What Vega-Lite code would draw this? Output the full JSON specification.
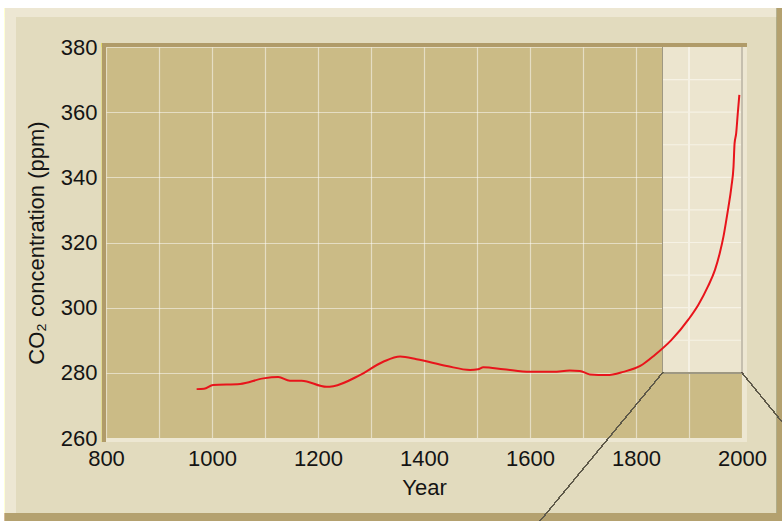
{
  "$schema": "https://vega.github.io/schema/vega-lite/v6.json",
  "width": 636,
  "height": 391,
  "autosize": {"type": "none"},
  "padding": {"left": 106, "top": 47, "right": 40, "bottom": 83},
  "background": "#e2dbbe",
  "config": {
    "view": {"fill": "#cbbb86", "stroke": null},
    "font": "Liberation Sans",
    "axis": {
      "labelFont": "Liberation Sans",
      "titleFont": "Liberation Sans",
      "labelFontSize": 22,
      "titleFontSize": 22,
      "titleFontWeight": "normal",
      "labelColor": "#141414",
      "titleColor": "#141414",
      "ticks": false,
      "tickSize": 0,
      "domain": false,
      "gridColor": "#ffffff",
      "gridOpacity": 0.5,
      "gridWidth": 1.2,
      "labelOverlap": false,
      "labelFlush": false
    }
  },
  "datasets": {
    "co2": [
      {"year": 971, "ppm": 275.0},
      {"year": 985, "ppm": 275.1},
      {"year": 1002, "ppm": 276.3},
      {"year": 1053, "ppm": 276.6},
      {"year": 1097, "ppm": 278.3},
      {"year": 1125, "ppm": 278.7},
      {"year": 1147, "ppm": 277.6},
      {"year": 1169, "ppm": 277.6},
      {"year": 1216, "ppm": 275.7},
      {"year": 1229, "ppm": 275.9},
      {"year": 1279, "ppm": 279.3},
      {"year": 1323, "ppm": 283.4},
      {"year": 1355, "ppm": 285.0},
      {"year": 1386, "ppm": 284.2},
      {"year": 1443, "ppm": 282.1},
      {"year": 1487, "ppm": 280.9},
      {"year": 1502, "ppm": 281.1},
      {"year": 1512, "ppm": 281.7},
      {"year": 1550, "ppm": 281.1},
      {"year": 1600, "ppm": 280.3},
      {"year": 1644, "ppm": 280.3},
      {"year": 1675, "ppm": 280.7},
      {"year": 1694, "ppm": 280.6},
      {"year": 1713, "ppm": 279.5},
      {"year": 1745, "ppm": 279.3},
      {"year": 1776, "ppm": 280.3},
      {"year": 1808, "ppm": 282.1},
      {"year": 1835, "ppm": 285.4},
      {"year": 1867, "ppm": 290.1},
      {"year": 1899, "ppm": 296.4},
      {"year": 1918, "ppm": 301.0},
      {"year": 1936, "ppm": 306.6},
      {"year": 1949, "ppm": 311.6},
      {"year": 1958, "ppm": 316.7},
      {"year": 1965, "ppm": 321.8},
      {"year": 1970, "ppm": 326.5},
      {"year": 1974, "ppm": 330.5},
      {"year": 1980, "ppm": 337.1},
      {"year": 1984, "ppm": 343.3},
      {"year": 1986, "ppm": 350.4},
      {"year": 1989, "ppm": 353.5},
      {"year": 1992, "ppm": 359.6},
      {"year": 1995, "ppm": 365.3}
    ],
    "zoomgrid": [
      {"ppm": 290}, {"ppm": 300}, {"ppm": 310}, {"ppm": 320}, {"ppm": 330},
      {"ppm": 340}, {"ppm": 350}, {"ppm": 360}, {"ppm": 370}
    ]
  },
  "data": {"name": "co2"},
  "layer": [
    {
      "mark": {"type": "rect", "color": "#ffffff"},
      "encoding": {
        "x": {"datum": 500, "type": "quantitative", "scale": {"domain": [800, 2000], "nice": false, "zero": false}},
        "x2": {"datum": 2200},
        "y": {"datum": 391.97, "type": "quantitative", "scale": {"domain": [260, 380], "nice": false, "zero": false}},
        "y2": {"datum": 400}
      }
    },
    {
      "mark": {"type": "rect", "color": "#ffffff"},
      "encoding": {
        "x": {"datum": 500, "type": "quantitative", "scale": {"domain": [800, 2000], "nice": false, "zero": false}},
        "x2": {"datum": 609.4},
        "y": {"datum": 200, "type": "quantitative", "scale": {"domain": [260, 380], "nice": false, "zero": false}},
        "y2": {"datum": 400}
      }
    },
    {
      "mark": {"type": "rect", "color": "#ede7d3"},
      "encoding": {
        "x": {"datum": 609.4, "type": "quantitative", "scale": {"domain": [800, 2000], "nice": false, "zero": false}},
        "x2": {"datum": 2066},
        "y": {"datum": 389.2, "type": "quantitative", "scale": {"domain": [260, 380], "nice": false, "zero": false}},
        "y2": {"datum": 391.97}
      }
    },
    {
      "mark": {"type": "rect", "color": "#ede7d3"},
      "encoding": {
        "x": {"datum": 609.4, "type": "quantitative", "scale": {"domain": [800, 2000], "nice": false, "zero": false}},
        "x2": {"datum": 630.2},
        "y": {"datum": 236.98, "type": "quantitative", "scale": {"domain": [260, 380], "nice": false, "zero": false}},
        "y2": {"datum": 391.97}
      }
    },
    {
      "mark": {"type": "rect", "color": "#b4a16f"},
      "encoding": {
        "x": {"datum": 2066, "type": "quantitative", "scale": {"domain": [800, 2000], "nice": false, "zero": false}},
        "x2": {"datum": 2200},
        "y": {"datum": 200, "type": "quantitative", "scale": {"domain": [260, 380], "nice": false, "zero": false}},
        "y2": {"datum": 391.97}
      }
    },
    {
      "mark": {"type": "rect", "color": "#b4a16f"},
      "encoding": {
        "x": {"datum": 609.4, "type": "quantitative", "scale": {"domain": [800, 2000], "nice": false, "zero": false}},
        "x2": {"datum": 2200},
        "y": {"datum": 200, "type": "quantitative", "scale": {"domain": [260, 380], "nice": false, "zero": false}},
        "y2": {"datum": 236.98}
      }
    },
    {
      "mark": {"type": "rect", "color": "#ede7d2"},
      "encoding": {
        "x": {"datum": 2000, "type": "quantitative", "scale": {"domain": [800, 2000], "nice": false, "zero": false}},
        "x2": {"datum": 2008.5},
        "y": {"datum": 258.77, "type": "quantitative", "scale": {"domain": [260, 380], "nice": false, "zero": false}},
        "y2": {"datum": 381.23}
      }
    },
    {
      "mark": {"type": "rect", "color": "#ede7d2"},
      "encoding": {
        "x": {"datum": 792.45, "type": "quantitative", "scale": {"domain": [800, 2000], "nice": false, "zero": false}},
        "x2": {"datum": 2008.5},
        "y": {"datum": 258.77, "type": "quantitative", "scale": {"domain": [260, 380], "nice": false, "zero": false}},
        "y2": {"datum": 260}
      }
    },
    {
      "mark": {"type": "rect", "color": "#b09b69"},
      "encoding": {
        "x": {"datum": 792.45, "type": "quantitative", "scale": {"domain": [800, 2000], "nice": false, "zero": false}},
        "x2": {"datum": 2008.5},
        "y": {"datum": 380, "type": "quantitative", "scale": {"domain": [260, 380], "nice": false, "zero": false}},
        "y2": {"datum": 381.23}
      }
    },
    {
      "mark": {"type": "rect", "color": "#b09b69"},
      "encoding": {
        "x": {"datum": 792.45, "type": "quantitative", "scale": {"domain": [800, 2000], "nice": false, "zero": false}},
        "x2": {"datum": 800},
        "y": {"datum": 258.77, "type": "quantitative", "scale": {"domain": [260, 380], "nice": false, "zero": false}},
        "y2": {"datum": 381.23}
      }
    },
    {
      "mark": {"type": "rect", "color": "#ece5cf"},
      "encoding": {
        "x": {"datum": 1850, "type": "quantitative", "scale": {"domain": [800, 2000], "nice": false, "zero": false}},
        "x2": {"datum": 2000},
        "y": {"datum": 280, "type": "quantitative", "scale": {"domain": [260, 380], "nice": false, "zero": false}},
        "y2": {"datum": 380}
      }
    },
    {
      "data": {"name": "zoomgrid"},
      "mark": {"type": "rule", "color": "#f6f2e5", "strokeWidth": 1.2},
      "encoding": {
        "x": {"datum": 1850, "type": "quantitative", "scale": {"domain": [800, 2000], "nice": false, "zero": false}},
        "x2": {"datum": 2000},
        "y": {"field": "ppm", "type": "quantitative", "scale": {"domain": [260, 380], "nice": false, "zero": false}}
      }
    },
    {
      "mark": {"type": "rule", "color": "#f6f2e5", "strokeWidth": 1.2},
      "encoding": {
        "x": {"datum": 1900, "type": "quantitative", "scale": {"domain": [800, 2000], "nice": false, "zero": false}},
        "y": {"datum": 280, "type": "quantitative", "scale": {"domain": [260, 380], "nice": false, "zero": false}},
        "y2": {"datum": 380}
      }
    },
    {
      "mark": {"type": "rule", "color": "#9f9882", "strokeWidth": 1},
      "encoding": {
        "x": {"datum": 1850, "type": "quantitative", "scale": {"domain": [800, 2000], "nice": false, "zero": false}},
        "y": {"datum": 280, "type": "quantitative", "scale": {"domain": [260, 380], "nice": false, "zero": false}},
        "y2": {"datum": 380}
      }
    },
    {
      "mark": {"type": "rule", "color": "#c4bfae", "strokeWidth": 1.5},
      "encoding": {
        "x": {"datum": 2000, "type": "quantitative", "scale": {"domain": [800, 2000], "nice": false, "zero": false}},
        "y": {"datum": 280, "type": "quantitative", "scale": {"domain": [260, 380], "nice": false, "zero": false}},
        "y2": {"datum": 380}
      }
    },
    {
      "mark": {"type": "rule", "color": "#9f9882", "strokeWidth": 1},
      "encoding": {
        "x": {"datum": 1850, "type": "quantitative", "scale": {"domain": [800, 2000], "nice": false, "zero": false}},
        "x2": {"datum": 2000},
        "y": {"datum": 280, "type": "quantitative", "scale": {"domain": [260, 380], "nice": false, "zero": false}}
      }
    },
    {
      "mark": {"type": "rule", "color": "#5f5a4a", "strokeWidth": 1},
      "encoding": {
        "x": {"datum": 1850, "type": "quantitative", "scale": {"domain": [800, 2000], "nice": false, "zero": false}},
        "x2": {"datum": 1600},
        "y": {"datum": 280, "type": "quantitative", "scale": {"domain": [260, 380], "nice": false, "zero": false}},
        "y2": {"datum": 230.8}
      }
    },
    {
      "mark": {"type": "rule", "color": "#5f5a4a", "strokeWidth": 1},
      "encoding": {
        "x": {"datum": 2000, "type": "quantitative", "scale": {"domain": [800, 2000], "nice": false, "zero": false}},
        "x2": {"datum": 2100},
        "y": {"datum": 280, "type": "quantitative", "scale": {"domain": [260, 380], "nice": false, "zero": false}},
        "y2": {"datum": 260.06}
      }
    },
    {
      "mark": {"type": "line", "color": "#e8141b", "strokeWidth": 2, "interpolate": "monotone"},
      "encoding": {
        "x": {
          "field": "year",
          "type": "quantitative",
          "scale": {"domain": [800, 2000], "nice": false, "zero": false},
          "axis": {
            "title": "Year",
            "values": [800, 900, 1000, 1100, 1200, 1300, 1400, 1500, 1600, 1700, 1800, 1900, 2000],
            "labelExpr": "datum.value % 200 == 0 ? datum.label : ''",
            "format": "d",
            "grid": true,
            "labelPadding": 10,
            "titlePadding": 8
          }
        },
        "y": {
          "field": "ppm",
          "type": "quantitative",
          "scale": {"domain": [260, 380], "nice": false, "zero": false},
          "axis": {
            "title": "CO₂ concentration (ppm)",
            "values": [260, 270, 280, 290, 300, 310, 320, 330, 340, 350, 360, 370, 380],
            "labelExpr": "datum.value % 20 == 0 ? datum.label : ''",
            "grid": true,
            "labelPadding": 9,
            "titlePadding": 12
          }
        }
      }
    }
  ]
}
